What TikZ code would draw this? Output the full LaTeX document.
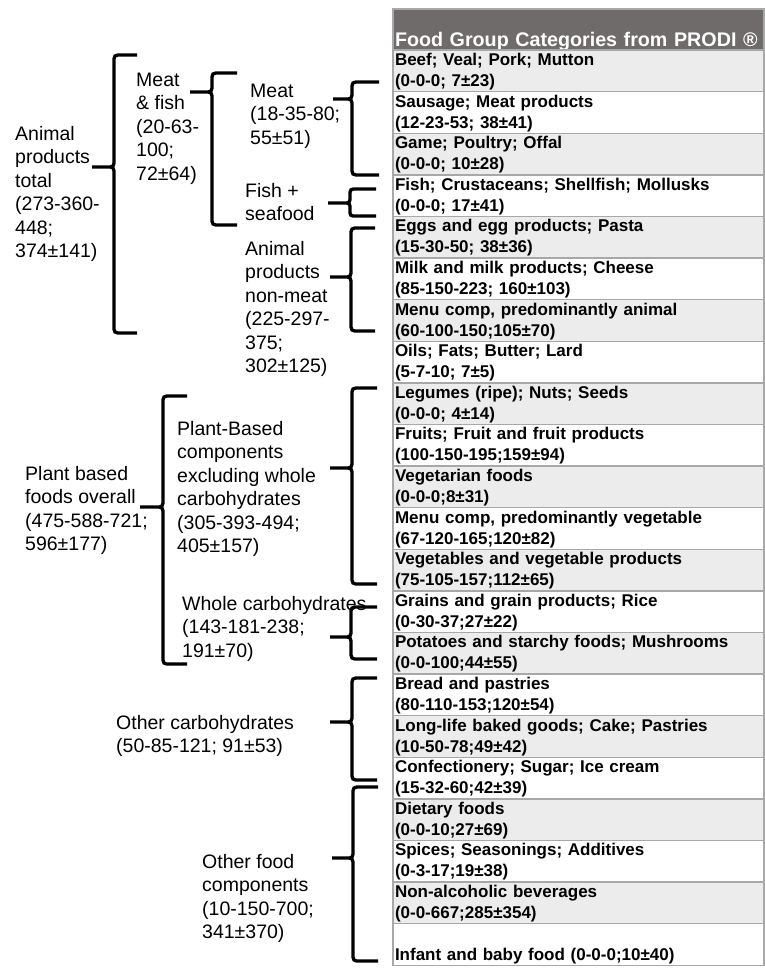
\documentclass[tikz,border=0pt]{standalone}
\usepackage{fontspec}
\setmainfont{Liberation Sans}
\usetikzlibrary{positioning}
\definecolor{headfill}{RGB}{112,107,107}
\definecolor{zebra}{RGB}{236,236,236}
\definecolor{rule}{RGB}{168,168,168}
\tikzset{
	tabrow/.style={draw=rule,line width=1.4pt,outer sep=0pt,inner xsep=2pt,inner ysep=0pt,
		text width=367pt,align=left,text height=15.5pt,text depth=26.1pt,
		font=\bfseries\fontsize{17}{21}\selectfont},
	oddrow/.style={tabrow,fill=zebra},
	evenrow/.style={tabrow,fill=white},
	headrow/.style={tabrow,fill=headfill,text=white,text height=37pt,text depth=4pt,
		font=\bfseries\fontsize{19.7}{23}\selectfont},
	gruppe/.style={anchor=north west,inner sep=0pt,align=left,font=\fontsize{19.5}{23.5}\selectfont}
}
\begin{document}
\begin{tikzpicture}[x=1pt,y=-1pt]
				\useasboundingbox (0,0) rectangle (765,975);
				% Tabelle
				\node[headrow,anchor=north west] (kopf) at (393,9) {Food Group Categories from PRODI ®};
				\node[oddrow,below=0pt of kopf] (r1) {Beef; Veal; Pork; Mutton\\(0-0-0; 7±23)};
				\node[evenrow,below=0pt of r1] (r2) {Sausage; Meat products\\(12-23-53; 38±41)};
				\node[oddrow,below=0pt of r2] (r3) {Game; Poultry; Offal\\(0-0-0; 10±28)};
				\node[evenrow,below=0pt of r3] (r4) {Fish; Crustaceans; Shellfish; Mollusks\\(0-0-0; 17±41)};
				\node[oddrow,below=0pt of r4] (r5) {Eggs and egg products; Pasta\\(15-30-50; 38±36)};
				\node[evenrow,below=0pt of r5] (r6) {Milk and milk products; Cheese\\(85-150-223; 160±103)};
				\node[oddrow,below=0pt of r6] (r7) {Menu comp, predominantly animal\\(60-100-150;105±70)};
				\node[evenrow,below=0pt of r7] (r8) {Oils; Fats; Butter; Lard\\(5-7-10; 7±5)};
				\node[oddrow,below=0pt of r8] (r9) {Legumes (ripe); Nuts; Seeds\\(0-0-0; 4±14)};
				\node[evenrow,below=0pt of r9] (r10) {Fruits; Fruit and fruit products\\(100-150-195;159±94)};
				\node[oddrow,below=0pt of r10] (r11) {Vegetarian foods\\(0-0-0;8±31)};
				\node[evenrow,below=0pt of r11] (r12) {Menu comp, predominantly vegetable\\(67-120-165;120±82)};
				\node[oddrow,below=0pt of r12] (r13) {Vegetables and vegetable products\\(75-105-157;112±65)};
				\node[evenrow,below=0pt of r13] (r14) {Grains and grain products; Rice\\(0-30-37;27±22)};
				\node[oddrow,below=0pt of r14] (r15) {Potatoes and starchy foods; Mushrooms\\(0-0-100;44±55)};
				\node[evenrow,below=0pt of r15] (r16) {Bread and pastries\\(80-110-153;120±54)};
				\node[oddrow,below=0pt of r16] (r17) {Long-life baked goods; Cake; Pastries\\(10-50-78;49±42)};
				\node[evenrow,below=0pt of r17] (r18) {Confectionery; Sugar; Ice cream\\(15-32-60;42±39)};
				\node[oddrow,below=0pt of r18] (r19) {Dietary foods\\(0-0-10;27±69)};
				\node[evenrow,below=0pt of r19] (r20) {Spices; Seasonings; Additives\\(0-3-17;19±38)};
				\node[oddrow,below=0pt of r20] (r21) {Non-alcoholic beverages\\(0-0-667;285±354)};
				\node[evenrow,below=0pt of r21] (r22) {\mbox{}\\Infant and baby food (0-0-0;10±40)};
				% Gruppen
				\node[gruppe] (animaltotal) at (15,125.8) {Animal\\products\\total\\(273-360-\\448;\\374±141)};
				\node[gruppe] (meatfish) at (136,72.8) {Meat\\\& fish\\(20-63-\\100;\\72±64)};
				\node[gruppe] (meat) at (250,83.8) {Meat\\(18-35-80;\\55±51)};
				\node[gruppe] (fish) at (245,182.8) {Fish +\\seafood};
				\node[gruppe] (nonmeat) at (245,240.8) {Animal\\products\\non-meat\\(225-297-\\375;\\302±125)};
				\node[gruppe] (plantall) at (25,465.8) {Plant based\\foods overall\\(475-588-721;\\596±177)};
				\node[gruppe] (plantcomp) at (177,420.8) {Plant-Based\\components\\excluding whole\\carbohydrates\\(305-393-494;\\405±157)};
				\node[gruppe] (wholecarb) at (182,595.8) {Whole carbohydrates\\(143-181-238;\\191±70)};
				\node[gruppe] (othercarb) at (116,714.8) {Other carbohydrates\\(50-85-121; 91±53)};
				\node[gruppe] (otherfood) at (202,853.8) {Other food\\components\\(10-150-700;\\341±370)};
				% Klammern
				\begin{scope}[line width=3.3pt]
					% animal products total
					\draw (137,55) -- (122,55) .. controls (114,55) .. (114,63) -- (114,159) .. controls (114,167) .. (106,167) -- (92,167)
						(106,167) .. controls (114,167) .. (114,175) -- (114,325) .. controls (114,333) .. (122,333) -- (137,333);
					% meat & fish
					\draw (237,73) -- (220,73) .. controls (212,73) .. (212,81) -- (212,84) .. controls (212,92) .. (204,92) -- (190,92)
						(204,92) .. controls (212,92) .. (212,100) -- (212,217) .. controls (212,225) .. (220,225) -- (237,225);
					% meat
					\draw (379,82) -- (360,82) .. controls (352,82) .. (352,90) -- (352,91) .. controls (352,99) .. (344,99) -- (333,99)
						(344,99) .. controls (352,99) .. (352,107) -- (352,167) .. controls (352,175) .. (360,175) -- (379,175);
					% fish
					\draw (376,189) -- (357,189) .. controls (350,189) .. (350,196) .. controls (350,203) .. (343,203) -- (328,203)
						(343,203) .. controls (350,203) .. (350,209.5) .. controls (350,216) .. (356.5,216) -- (376,216);
					% non-meat
					\draw (375,228) -- (359,228) .. controls (351,228) .. (351,236) -- (351,269) .. controls (351,277) .. (343,277) -- (330,277)
						(343,277) .. controls (351,277) .. (351,285) -- (351,323) .. controls (351,331) .. (359,331) -- (375,331);
					% plant based overall
					\draw (187,396) -- (171,396) .. controls (163,396) .. (163,404) -- (163,499) .. controls (163,507) .. (155,507) -- (140,507)
						(155,507) .. controls (163,507) .. (163,515) -- (163,656) .. controls (163,664) .. (171,664) -- (187,664);
					% plant-based components
					\draw (377,388) -- (360,388) .. controls (352,388) .. (352,396) -- (352,460) .. controls (352,468) .. (344,468) -- (330,468)
						(344,468) .. controls (352,468) .. (352,476) -- (352,576) .. controls (352,584) .. (360,584) -- (377,584);
					% whole carbohydrates
					\draw (377,607) -- (359,607) .. controls (351,607) .. (351,615) -- (351,629) .. controls (351,637) .. (343,637) -- (330,637)
						(343,637) .. controls (351,637) .. (351,645) -- (351,651) .. controls (351,659) .. (359,659) -- (377,659);
					% other carbohydrates
					\draw (377,678) -- (360,678) .. controls (352,678) .. (352,686) -- (352,714) .. controls (352,722) .. (344,722) -- (330,722)
						(344,722) .. controls (352,722) .. (352,730) -- (352,772) .. controls (352,780) .. (360,780) -- (377,780);
					% other food components
					\draw (378,787) -- (361,787) .. controls (353,787) .. (353,795) -- (353,850) .. controls (353,858) .. (345,858) -- (332,858)
						(345,858) .. controls (353,858) .. (353,866) -- (353,953) .. controls (353,961) .. (361,961) -- (378,961);
				\end{scope}
			\end{tikzpicture}
\end{document}
